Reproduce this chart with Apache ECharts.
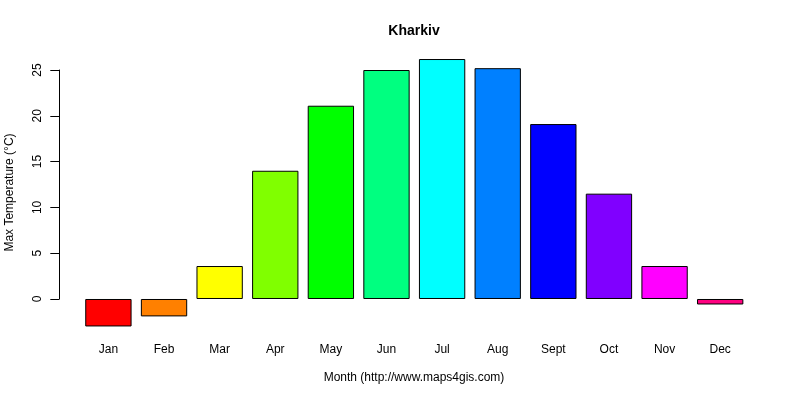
<!DOCTYPE html>
<html>
<head>
<meta charset="utf-8">
<script src="https://cdn.jsdelivr.net/npm/echarts@6/dist/echarts.min.js"></script>
<style>
  html, body { margin: 0; padding: 0; background: #fff; }
  #chart { width: 800px; height: 400px; }
</style>
</head>
<body>
<div id="chart"></div>
<script>
// monthly max temperature
const months = ['Jan', 'Feb', 'Mar', 'Apr', 'May', 'Jun', 'Jul', 'Aug', 'Sept', 'Oct', 'Nov', 'Dec'];
const maxTemp = [-3.0, -1.9, 3.6, 14.0, 21.1, 25.0, 26.2, 25.2, 19.1, 11.5, 3.6, -0.6];
const barColors = ['#FF0000', '#FF8000', '#FFFF00', '#80FF00', '#00FF00', '#00FF80',
  '#00FFFF', '#0080FF', '#0000FF', '#8000FF', '#FF00FF', '#FF0080'];
const yTicks = [0, 5, 10, 15, 20, 25];

const font = 'Liberation Sans, Arial, sans-serif';

const myChart = echarts.init(document.getElementById('chart'));

const option = {
  animation: false,
  backgroundColor: '#fff',
  grid: [
    // plot region for the bars (R's 4% padded range)
    { left: 80.6, right: 52, top: 48.3, height: 288.7 },
    // grid that only carries the visible y axis from 0 to 25
    { left: 59.3, right: 52, top: 70, height: 229 }
  ],
  xAxis: [
    {
      gridIndex: 0,
      type: 'category',
      data: months,
      axisLine: { show: false, onZero: false },
      axisTick: { show: false },
      axisLabel: { margin: 7, fontFamily: font, fontSize: 12, color: '#000' }
    },
    { gridIndex: 1, type: 'value', show: false }
  ],
  yAxis: [
    {
      gridIndex: 0,
      type: 'value',
      min: -4.15,
      max: 27.37,
      show: false
    },
    {
      gridIndex: 1,
      type: 'value',
      min: yTicks[0],
      max: yTicks[yTicks.length - 1],
      interval: 5,
      splitLine: { show: false },
      axisLine: { show: true, lineStyle: { color: '#000', width: 1 } },
      axisTick: { show: true, length: 9, lineStyle: { color: '#000' } },
      axisLabel: {
        rotate: 90,
        margin: 16,
        fontFamily: font,
        fontSize: 12,
        color: '#000'
      }
    }
  ],
  series: [{
    type: 'bar',
    xAxisIndex: 0,
    yAxisIndex: 0,
    barWidth: '83.3%',
    data: maxTemp.map((v, i) => ({
      value: v,
      itemStyle: { color: barColors[i], borderColor: '#000', borderWidth: 1 }
    }))
  }],
  graphic: [
    {
      type: 'text',
      x: 414,
      y: 31.5,
      style: {
        text: 'Kharkiv',
        font: 'bold 14px ' + font,
        fill: '#000',
        align: 'center',
        verticalAlign: 'middle'
      }
    },
    {
      type: 'text',
      x: 9.5,
      y: 192.5,
      rotation: Math.PI / 2,
      style: {
        text: 'Max Temperature (°C)',
        font: '12px ' + font,
        fill: '#000',
        align: 'center',
        verticalAlign: 'middle'
      }
    },
    {
      type: 'text',
      x: 414,
      y: 378,
      style: {
        text: 'Month (http://www.maps4gis.com)',
        font: '12px ' + font,
        fill: '#000',
        align: 'center',
        verticalAlign: 'middle'
      }
    }
  ]
};

myChart.setOption(option);
</script>
</body>
</html>
